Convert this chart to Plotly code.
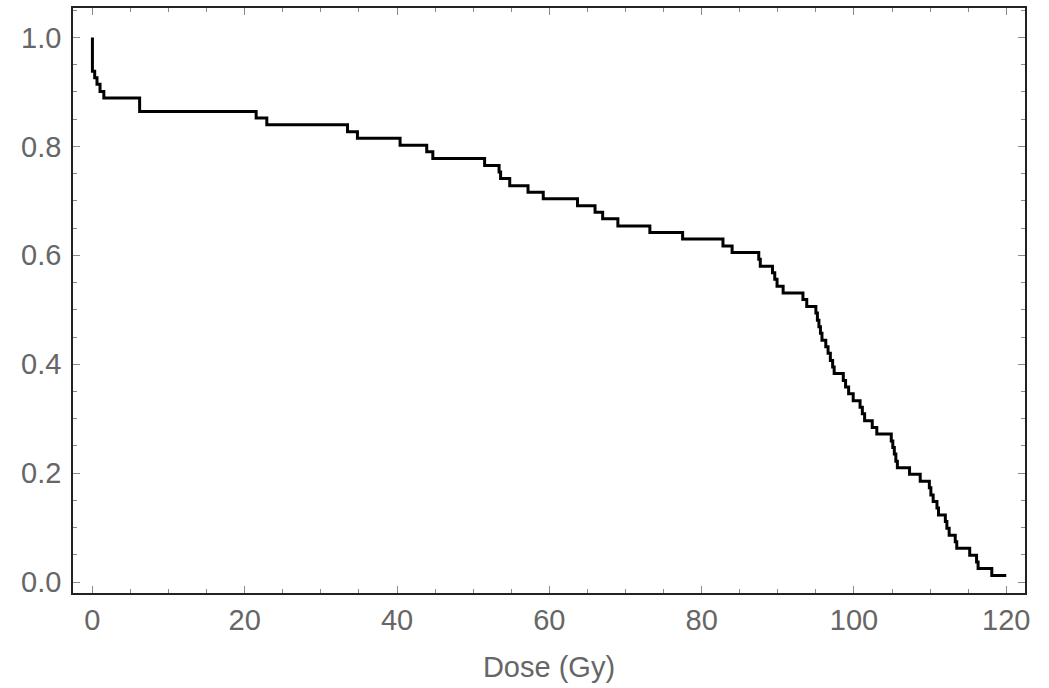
import plotly.graph_objects as go

# Step curve: dose (Gy) at each step and the surviving fraction after the step
dose = [0, 0, 0.3, 0.6, 1.0, 1.5, 6.2, 21.5, 22.9, 33.5, 34.8, 40.4, 43.9, 44.7,
        51.5, 53.4, 53.6, 54.8, 57.2, 59.2, 63.7, 66.0, 67.0, 69.0, 73.2, 77.5,
        82.8, 84.0, 87.5, 87.7, 89.3, 89.6, 89.9, 90.7, 93.3, 93.8, 95.0, 95.2,
        95.4, 95.6, 95.8, 96.3, 96.6, 96.9, 97.2, 97.4, 98.6, 98.9, 99.3, 99.9,
        100.8, 101.1, 101.4, 102.4, 103.0, 104.9, 105.1, 105.3, 105.5, 105.7,
        107.3, 108.7, 109.9, 110.1, 110.4, 110.9, 111.1, 112.0, 112.2, 112.5,
        113.3, 113.5, 115.2, 116.1, 116.3, 118.1, 120.0]
fraction = [1.000, 0.938, 0.926, 0.914, 0.901, 0.889, 0.864, 0.852, 0.840, 0.827,
            0.815, 0.802, 0.790, 0.778, 0.765, 0.753, 0.741, 0.728, 0.716, 0.704,
            0.691, 0.679, 0.667, 0.654, 0.642, 0.630, 0.617, 0.605, 0.593, 0.580,
            0.568, 0.556, 0.543, 0.531, 0.519, 0.506, 0.494, 0.481, 0.469, 0.457,
            0.444, 0.432, 0.420, 0.407, 0.395, 0.383, 0.370, 0.358, 0.346, 0.333,
            0.321, 0.309, 0.296, 0.284, 0.272, 0.259, 0.247, 0.235, 0.222, 0.210,
            0.198, 0.185, 0.173, 0.160, 0.148, 0.136, 0.123, 0.111, 0.099, 0.086,
            0.074, 0.062, 0.049, 0.037, 0.025, 0.012, 0.012]

x_ticks = [0, 20, 40, 60, 80, 100, 120]
y_ticks = [0.0, 0.2, 0.4, 0.6, 0.8, 1.0]
y_tick_text = ["0.0", "0.2", "0.4", "0.6", "0.8", "1.0"]

FONT = "Liberation Sans, Arial, sans-serif"
GRAY = "#666666"
TICK = "#8a8a8a"

fig = go.Figure()
fig.add_trace(go.Scatter(x=dose, y=fraction, mode="lines",
                         line=dict(color="black", width=3, shape="hv"),
                         showlegend=False, hoverinfo="skip"))

axis_common = dict(
    showgrid=False, zeroline=False,
    showline=True, linecolor="#222222", linewidth=1.5, mirror="ticks",
    ticks="inside", ticklen=7, tickwidth=1.2, tickcolor=TICK,
    tickfont=dict(family=FONT, size=29, color=GRAY),
)

fig.update_xaxes(**axis_common, range=[-2.55, 122.46], tickvals=x_ticks,
                 minor=dict(dtick=5, ticks="inside", ticklen=4, tickwidth=1, tickcolor=TICK),
                 title=dict(text="Dose (Gy)", font=dict(family=FONT, size=29, color=GRAY),
                            standoff=22),
                 ticklabelstandoff=0)
fig.update_yaxes(**axis_common, range=[-0.0201, 1.0542], tickvals=y_ticks,
                 ticktext=y_tick_text,
                 minor=dict(dtick=0.05, ticks="inside", ticklen=4, tickwidth=1, tickcolor=TICK),
                 ticklabelstandoff=4)

fig.update_layout(
    width=1049, height=688,
    margin=dict(l=73, r=24, t=6, b=95),
    paper_bgcolor="white", plot_bgcolor="white",
)

fig.write_html("out.html")
